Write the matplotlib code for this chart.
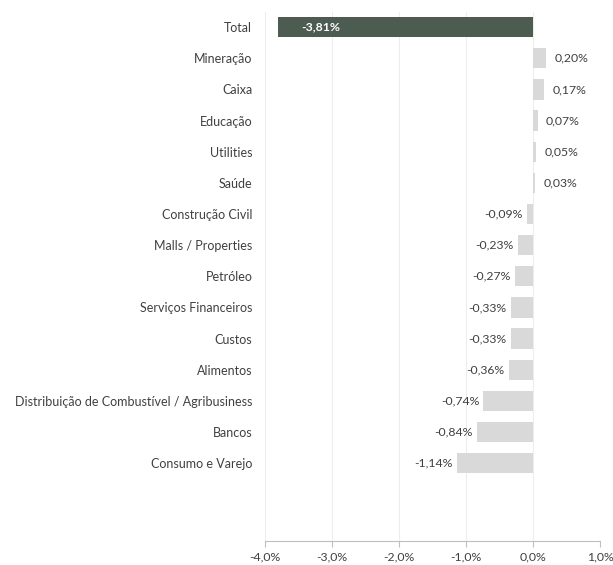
import matplotlib.pyplot as plt
from matplotlib.ticker import FuncFormatter

# dados
setores = ['Total', 'Mineração', 'Caixa', 'Educação', 'Utilities', 'Saúde',
           'Construção Civil', 'Malls / Properties', 'Petróleo',
           'Serviços Financeiros', 'Custos', 'Alimentos',
           'Distribuição de Combustível / Agribusiness', 'Bancos',
           'Consumo e Varejo', '', '']
valores = [-3.81, 0.20, 0.17, 0.07, 0.05, 0.03, -0.09, -0.23, -0.27,
           -0.33, -0.33, -0.36, -0.74, -0.84, -1.14, None, None]

plt.rcParams['font.family'] = ['Lato', 'DejaVu Sans']

fig = plt.figure(figsize=(6.13, 5.65), dpi=100)
ax = fig.add_axes([0.432, 0.0425, 0.547, 0.937])

pos = list(range(len(setores)))
cores = ['#4d5c50'] + ['#d9d9d9'] * (len(setores) - 1)
vals = [v if v is not None else 0 for v in valores]
ax.barh(pos, vals, height=0.65, color=cores, zorder=2)

# rótulos
for i, v in enumerate(valores):
    if v is None:
        continue
    txt = f'{v:.2f}%'.replace('.', ',')
    if i == 0:
        ax.annotate(txt, (v, i), xytext=(17, 0), textcoords='offset points',
                    ha='left', va='center', color='white', fontsize=8.8,
                    fontweight='bold')
    elif v >= 0:
        ax.annotate(txt, (v, i), xytext=(6, 0), textcoords='offset points',
                    ha='left', va='center', color='#404040', fontsize=8.8)
    else:
        ax.annotate(txt, (v, i), xytext=(-3, 0), textcoords='offset points',
                    ha='right', va='center', color='#404040', fontsize=8.8)

ax.set_yticks(pos)
ax.set_yticklabels(setores, fontsize=9, color='#404040')
ax.set_ylim(len(setores) - 0.5, -0.5)
ax.set_xlim(-4, 1)
ax.set_xticks([-4, -3, -2, -1, 0, 1])
ax.xaxis.set_major_formatter(FuncFormatter(lambda x, p: f'{x:.1f}%'.replace('.', ',')))
ax.tick_params(axis='x', labelsize=8.8, labelcolor='#404040', color='#bfbfbf',
               length=4, width=0.8)
ax.tick_params(axis='y', length=0, pad=9)
ax.grid(axis='x', color='#ededed', linewidth=0.8, zorder=0)

for s in ['top', 'right', 'left']:
    ax.spines[s].set_visible(False)
ax.spines['bottom'].set_color('#bfbfbf')
ax.spines['bottom'].set_linewidth(0.8)

plt.savefig('out.png', dpi=100)
